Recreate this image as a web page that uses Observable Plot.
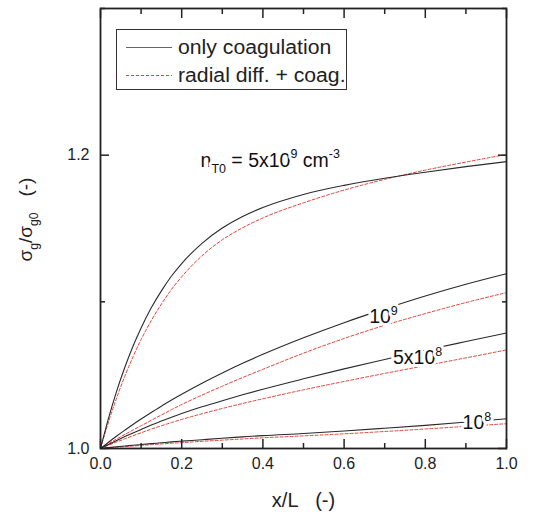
<!DOCTYPE html>
<html>
<head>
<meta charset="utf-8">
<script src="https://cdn.jsdelivr.net/npm/d3@7"></script>
<script src="https://cdn.jsdelivr.net/npm/@observablehq/plot@0.6"></script>
<style>
  body { margin: 0; background: #fff; font-family: "Liberation Sans", Arial, sans-serif; }
  #wrap { position: relative; width: 537px; height: 515px; }
  #legend { position: absolute; left: 116px; top: 29px; width: 229px; height: 59px;
            border: 1.5px solid #333; background: #fff; color: #222; font-size: 20px; }
  #legend .row { position: absolute; left: 0; height: 24px; }
  #legend svg { position: absolute; left: 9px; top: 11px; }
  #legend span { position: absolute; left: 61px; top: 0; white-space: nowrap; line-height: 24px;
                 transform-origin: 0 50%; transform: scaleX(1.06); }
</style>
</head>
<body>
<div id="wrap"></div>
<script>
// ---- data ----
const seriesNames = ["only coagulation", "radial diff. + coag."];
const densities = ["5e9", "1e9", "5e8", "1e8"];
const xGrid = [0, 0.02, 0.04, 0.06, 0.08, 0.1, 0.125, 0.15, 0.175, 0.2, 0.25, 0.3, 0.35, 0.4, 0.5, 0.6, 0.7, 0.8, 0.9, 1.0];

const coag5e9 = [1.000, 1.0209, 1.0393, 1.0554, 1.0697, 1.0822, 1.0959, 1.1075, 1.1176, 1.1261, 1.1399, 1.1503, 1.1582, 1.1643, 1.1732, 1.1794, 1.1843, 1.1884, 1.1922, 1.1956];
const diff5e9 = [1.000, 1.0183, 1.0347, 1.0494, 1.0625, 1.0743, 1.0872, 1.0985, 1.1085, 1.1171, 1.1314, 1.1423, 1.1505, 1.1572, 1.1675, 1.1762, 1.1835, 1.1898, 1.1953, 1.2005];
const coag1e9 = [1.000, 1.0043, 1.0085, 1.0125, 1.0164, 1.0201, 1.0246, 1.0289, 1.0331, 1.0370, 1.0445, 1.0515, 1.0581, 1.0642, 1.0755, 1.0858, 1.0952, 1.1040, 1.1120, 1.1192];
const diff1e9 = [1.000, 1.0033, 1.0065, 1.0096, 1.0126, 1.0155, 1.0192, 1.0229, 1.0265, 1.0300, 1.0364, 1.0425, 1.0484, 1.0540, 1.0650, 1.0750, 1.0840, 1.0920, 1.0995, 1.1063];
const coag5e8 = [1.000, 1.0028, 1.0055, 1.0081, 1.0106, 1.0130, 1.0160, 1.0187, 1.0213, 1.0238, 1.0284, 1.0326, 1.0366, 1.0404, 1.0475, 1.0543, 1.0607, 1.0670, 1.0729, 1.0787];
const diff5e8 = [1.000, 1.0023, 1.0045, 1.0066, 1.0087, 1.0107, 1.0132, 1.0155, 1.0177, 1.0198, 1.0237, 1.0273, 1.0307, 1.0339, 1.0400, 1.0457, 1.0512, 1.0565, 1.0618, 1.0672];
const coag1e8 = [1.000, 1.0006, 1.0012, 1.0017, 1.0022, 1.0027, 1.0033, 1.0039, 1.0045, 1.0050, 1.0060, 1.0070, 1.0079, 1.0088, 1.0102, 1.0119, 1.0138, 1.0158, 1.0180, 1.0203];
const diff1e8 = [1.000, 1.0005, 1.0009, 1.0013, 1.0017, 1.0021, 1.0026, 1.0031, 1.0036, 1.0040, 1.0049, 1.0057, 1.0065, 1.0073, 1.0086, 1.0100, 1.0116, 1.0133, 1.0151, 1.0169];

const curveLabels = ["n_{T0} = 5x10^{9} cm^{-3}", "10^{9}", "5x10^{8}", "10^{8}"];
const curveLabelX = [0.418, 0.697, 0.781, 0.927];
const curveLabelY = [1.1965, 1.090, 1.062, 1.0175];

const xMajorTicks = [0, 0.2, 0.4, 0.6, 0.8, 1.0];
const xMinorTicks = [0.1, 0.3, 0.5, 0.7, 0.9];
const yMajorTicks = [1.0, 1.2];
const yMinorTicks = [1.1, 1.3];
const xTitle = "x/L\u00a0\u00a0\u00a0(-)";
const yTitle = "σ_{g}/σ_{g0}\u00a0\u00a0\u00a0(-)";

// ---- build tables ----
const coagSets = [coag5e9, coag1e9, coag5e8, coag1e8];
const diffSets = [diff5e9, diff1e9, diff5e8, diff1e8];
const coagRows = [], diffRows = [];
densities.forEach((d, k) => {
  xGrid.forEach((x, i) => {
    coagRows.push({density: d, x, y: coagSets[k][i]});
    diffRows.push({density: d, x, y: diffSets[k][i]});
  });
});
const labelRows = curveLabels.map((t, i) => ({t, x: curveLabelX[i], y: curveLabelY[i]}));

const blackColor = "#2a2a2a";
const redColor = "#e0443c";
const frameColor = "#222";

const plot = Plot.plot({
  width: 537,
  height: 515,
  marginLeft: 100,
  marginRight: 31,
  marginTop: 8,
  marginBottom: 67,
  style: {fontFamily: "'Liberation Sans', Arial, sans-serif", color: "#222", background: "#fff"},
  x: {domain: [0, 1]},
  y: {domain: [1.0, 1.3]},
  marks: [
    Plot.line(diffRows, {x: "x", y: "y", z: "density", stroke: redColor, strokeWidth: 1, strokeDasharray: "3,2", curve: "monotone-x"}),
    Plot.line(coagRows, {x: "x", y: "y", z: "density", stroke: blackColor, strokeWidth: 1.1, curve: "monotone-x"}),
    Plot.text(labelRows, {x: "x", y: "y", text: "t", fontSize: 19.5, fill: "#111", stroke: "white", strokeWidth: 6, paintOrder: "stroke", textAnchor: "middle", lineAnchor: "middle"}),
    // bottom axis
    Plot.axisX({anchor: "bottom", ticks: xMajorTicks, tickSize: -9, fill: "none", label: null, stroke: frameColor, strokeWidth: 1.5}),
    Plot.axisX({anchor: "bottom", ticks: xMinorTicks, tickSize: -5, fill: "none", label: null, stroke: frameColor, strokeWidth: 1.5}),
    Plot.axisX({anchor: "bottom", ticks: xMajorTicks, tickSize: 0, tickPadding: 9, tickFormat: d3.format(".1f"), fontSize: 16, label: null, fill: "#222"}),
    // top axis
    Plot.axisX({anchor: "top", ticks: xMajorTicks, tickSize: -9, fill: "none", label: null, stroke: frameColor, strokeWidth: 1.5}),
    Plot.axisX({anchor: "top", ticks: xMinorTicks, tickSize: -5, fill: "none", label: null, stroke: frameColor, strokeWidth: 1.5}),
    // left axis
    Plot.axisY({anchor: "left", ticks: yMajorTicks, tickSize: -9, fill: "none", label: null, stroke: frameColor, strokeWidth: 1.5}),
    Plot.axisY({anchor: "left", ticks: yMinorTicks, tickSize: -5, fill: "none", label: null, stroke: frameColor, strokeWidth: 1.5}),
    Plot.axisY({anchor: "left", ticks: yMajorTicks, tickSize: 0, tickPadding: 11, tickFormat: d3.format(".1f"), fontSize: 16, label: null, fill: "#222"}),
    // right axis
    Plot.axisY({anchor: "right", ticks: yMajorTicks, tickSize: -9, fill: "none", label: null, stroke: frameColor, strokeWidth: 1.5}),
    Plot.axisY({anchor: "right", ticks: yMinorTicks, tickSize: -5, fill: "none", label: null, stroke: frameColor, strokeWidth: 1.5}),
    Plot.frame({stroke: frameColor, strokeWidth: 1.8}),
    // axis titles
    Plot.text([xTitle], {frameAnchor: "bottom", text: d => d, dy: 52, fontSize: 20, fill: "#222", textAnchor: "middle", lineAnchor: "middle"}),
    Plot.text([yTitle], {frameAnchor: "left", text: d => d, dx: -75, dy: -9, rotate: -90, fontSize: 19, fill: "#222", textAnchor: "middle", lineAnchor: "middle"})
  ]
});

// rich text: ^{..} superscripts and _{..} subscripts as tspans
function richify(svg) {
  d3.select(svg).selectAll("text").each(function() {
    const t = this.textContent;
    if (!/[\^_]\{/.test(t)) return;
    let fs = 18;
    for (let n = this; n && n.getAttribute; n = n.parentNode) {
      const a = n.getAttribute("font-size");
      if (a) { fs = parseFloat(a); break; }
    }
    while (this.firstChild) this.removeChild(this.firstChild);
    const re = /([\^_])\{([^}]*)\}|([^\^_]+)/g;
    let m, shift = 0;
    const sel = d3.select(this);
    while ((m = re.exec(t))) {
      const ts = sel.append("tspan");
      if (m[3] !== undefined) {
        ts.text(m[3]).attr("dy", -shift);
        shift = 0;
      } else if (m[1] === "^") {
        const s = -0.42 * fs;
        ts.text(m[2]).attr("dy", s - shift).attr("font-size", 0.64 * fs);
        shift = s;
      } else {
        const s = 0.32 * fs;
        ts.text(m[2]).attr("dy", s - shift).attr("font-size", 0.64 * fs);
        shift = s;
      }
    }
  });
}
richify(plot);

const wrap = document.getElementById("wrap");
wrap.appendChild(plot);

// legend
const legend = d3.select(wrap).append("div").attr("id", "legend");
const legendStyles = [
  {stroke: "#666", dash: null},
  {stroke: redColor, dash: "3,2"}
];
seriesNames.forEach((name, i) => {
  const row = legend.append("div").attr("class", "row").style("top", (i === 0 ? 5 : 33) + "px").style("width", "100%");
  const s = row.append("svg").attr("width", 46).attr("height", 3);
  s.append("line").attr("x1", 0).attr("x2", 46).attr("y1", 1.5).attr("y2", 1.5)
    .attr("stroke", legendStyles[i].stroke).attr("stroke-width", 1)
    .attr("stroke-dasharray", legendStyles[i].dash);
  row.append("span").text(name);
});
</script>
</body>
</html>
